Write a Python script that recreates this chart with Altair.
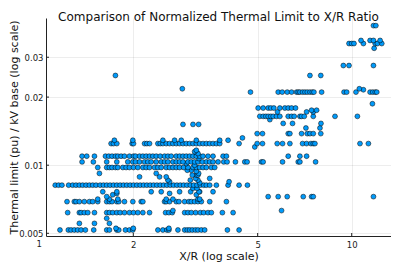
import altair as alt
import pandas as pd

# ---- data (x = X/R ratio, y = thermal limit per kV base) ----
xr_00517 = [1.165, 1.239, 1.264, 1.295, 1.327, 1.361, 1.405, 1.494, 1.644, 1.677, 1.771, 1.797, 1.888, 1.944, 1.993,
            2.397, 2.487, 2.562, 2.600, 2.779, 2.920, 2.977, 3.029, 3.089, 3.159, 3.221, 3.302, 3.385, 4.001, 4.361]
xr_00526 = [1.76, 2.00, 2.60]
xr_00553 = [1.344, 1.502, 1.677]
xr_00582 = [1.644]
xr_00617 = [1.233, 1.344, 1.361, 1.394, 1.430, 1.502, 1.644, 1.677, 1.719, 1.771, 1.815, 1.874, 1.944, 2.003, 2.068,
            2.146, 2.254, 2.537, 2.600, 2.665, 2.920, 2.992, 3.067, 3.167, 3.278, 3.360, 3.468, 3.555, 3.856, 4.173]
xr_00630 = [2.678, 5.963]
xr_00690 = [1.227, 1.295, 1.311, 1.344, 1.394, 1.447, 1.483, 1.539, 1.644, 1.677, 1.710, 1.771, 1.797, 1.874, 1.993,
            2.120, 2.146, 2.518, 2.549, 2.613, 2.745, 2.800, 2.920, 3.014, 3.067, 3.143, 3.221, 3.302, 3.512, 3.972]
xr_00708 = [1.539, 1.677, 1.784, 2.549, 2.678, 3.221, 3.262]
xr_00726 = [1.644, 5.403, 5.817, 6.218, 6.998, 7.442, 7.534, 11.74]
xr_00740 = [1.719, 3.182]
xr_00750 = [1.771, 2.613]
xr_00763 = [1.597, 1.771, 2.282, 2.457, 2.813, 3.052, 3.262, 3.599, 3.245]
xr_00790 = [3.105, 3.198]
xr_00816 = [1.125, 1.153, 1.182, 1.242, 1.279, 1.311, 1.344, 1.377, 1.412, 1.447, 1.483, 1.520, 1.566, 1.605, 1.644,
            1.685, 1.728, 1.771, 1.815, 1.860, 1.906, 1.954, 2.003, 2.053, 2.104, 2.157, 2.210, 2.265, 2.322, 2.380,
            2.439, 2.500, 2.562, 2.626, 2.691, 2.759, 2.827, 2.898, 2.970, 3.044, 3.121, 3.198, 3.278, 3.360, 3.426,
            3.512, 3.689, 4.021, 4.361, 4.638]
xr_00836 = [3.262]
xr_00845 = [2.613, 4.051]
xr_00859 = [2.581, 3.221, 3.044]
xr_00874 = [3.167, 3.512]
xr_00888 = [2.094, 2.427, 2.549]
xr_00904 = [3.182, 3.221, 3.089]
xr_00920 = [2.368, 3.237, 1.558]
xr_00940 = [3.182]
xr_00950 = [3.067, 2.977]
xr_00977 = [1.539, 1.644, 1.677, 1.710, 1.753, 1.784, 1.851, 1.897, 1.944, 2.003, 2.068, 2.146, 2.199, 2.254, 2.339,
            2.397, 2.457, 2.549, 2.613, 2.678, 2.745, 2.813, 2.898, 2.992, 3.105, 3.182, 3.262, 3.343, 3.426, 3.555, 3.644]
xr_01000 = [3.143]
xr_01017 = [2.955]
xr_01034 = [1.371, 1.490, 1.644, 1.771, 1.920, 1.993, 2.033, 2.094, 2.173, 2.226, 2.282, 2.368, 2.457, 2.518, 2.581,
            2.678, 2.745, 2.813, 2.884, 2.992, 3.067, 3.143, 3.221, 3.327, 3.426, 3.512, 3.599, 3.735, 3.895, 3.992,
            4.245, 4.548, 4.627, 5.144, 5.207, 6.007, 6.744, 6.827, 7.664]
xr_01070 = [3.245]
xr_01096 = [1.371, 1.419, 1.502, 1.629, 1.669, 1.710, 1.753, 1.784, 1.828, 1.874, 1.944, 2.003, 2.033, 2.094, 2.146,
            2.199, 2.254, 2.310, 2.368, 2.439, 2.518, 2.581, 2.645, 2.745, 2.813, 2.884, 2.955, 3.029, 3.105, 3.182,
            3.262, 3.343, 3.468, 3.599, 3.876, 3.972, 6.264, 6.827, 7.172]
xr_01126 = [3.221]
xr_01148 = [3.143]
xr_01164 = [3.182]
xr_01204 = [4.896]
xr_01246 = [1.698, 1.728, 1.771, 1.983, 2.003, 2.173, 2.210, 2.254, 2.397, 2.439, 2.487, 2.549, 2.613, 2.678, 2.745,
            2.813, 2.884, 2.955, 3.029, 3.105, 3.182, 3.262, 3.343, 3.426, 3.512, 3.599, 3.689, 3.781, 4.361, 4.982,
            5.182, 5.775, 6.007, 6.341, 6.963, 7.172, 7.405, 7.534, 7.627, 10.63, 11.31]
xr_01289 = [1.740, 1.993, 2.487, 2.711, 2.848, 3.182, 3.781, 4.021]
xr_01320 = [4.470]
xr_01379 = [4.982, 5.182, 6.264, 6.341, 6.912, 7.208, 7.351, 7.534, 7.963]
xr_01460 = [7.137, 7.915]
xr_01515 = [2.884, 3.105, 3.237]
xr_01530 = [6.036, 6.466, 7.974]
xr_01590 = [5.470]
xr_01644 = [5.081, 5.207, 5.311, 5.403, 5.510, 5.607, 5.746, 5.890, 6.264, 6.420, 6.547, 6.827, 6.912, 7.050, 7.534,
            8.843, 10.43]
xr_01720 = [5.788, 7.172, 7.534]
xr_01750 = [7.442, 7.722]
xr_01789 = [5.018, 5.207, 5.403, 5.510, 5.635, 5.890, 6.111, 6.264, 6.420, 6.611]
xr_01869 = [11.65]
xr_02104 = [4.743, 5.817, 5.992, 6.218, 6.420, 6.661, 6.744, 6.827, 6.963, 7.085, 7.208, 7.351, 7.478, 7.571, 8.013,
            9.451, 9.638, 10.32, 11.45, 11.68, 11.89, 12.03]
xr_02155 = [10.90]
xr_02177 = [2.870, 10.58]
xr_02492 = [1.753, 7.351, 7.963]
xr_02758 = [9.404, 9.805, 11.74]
xr_03288 = [11.80]
xr_03450 = [9.805, 10.00, 10.17, 10.90, 11.89, 12.09, 12.48]
xr_03560 = [10.71, 11.45, 11.74, 12.33]
xr_04140 = [11.74, 11.95]

rows = [
    (0.00517, xr_00517), (0.00526, xr_00526), (0.00553, xr_00553), (0.00582, xr_00582), (0.00617, xr_00617),
    (0.00630, xr_00630), (0.00690, xr_00690), (0.00708, xr_00708), (0.00726, xr_00726), (0.00740, xr_00740),
    (0.00750, xr_00750), (0.00763, xr_00763), (0.00790, xr_00790), (0.00816, xr_00816), (0.00836, xr_00836),
    (0.00845, xr_00845), (0.00859, xr_00859), (0.00874, xr_00874), (0.00888, xr_00888), (0.00904, xr_00904),
    (0.00920, xr_00920), (0.00940, xr_00940), (0.00950, xr_00950), (0.00977, xr_00977), (0.01000, xr_01000),
    (0.01017, xr_01017), (0.01034, xr_01034), (0.01070, xr_01070), (0.01096, xr_01096), (0.01126, xr_01126),
    (0.01148, xr_01148), (0.01164, xr_01164), (0.01204, xr_01204), (0.01246, xr_01246), (0.01289, xr_01289),
    (0.01320, xr_01320), (0.01379, xr_01379), (0.01460, xr_01460), (0.01515, xr_01515), (0.01530, xr_01530),
    (0.01590, xr_01590), (0.01644, xr_01644), (0.01720, xr_01720), (0.01750, xr_01750), (0.01789, xr_01789),
    (0.01869, xr_01869), (0.02104, xr_02104), (0.02155, xr_02155), (0.02177, xr_02177), (0.02492, xr_02492),
    (0.02758, xr_02758), (0.03288, xr_03288), (0.03450, xr_03450), (0.03560, xr_03560), (0.04140, xr_04140),
]

x_ticks = [2, 5, 10]
x_first_label = [1]
y_ticks = [0.005, 0.01, 0.02, 0.03]

df = pd.DataFrame([{"xr": x, "lim": y} for y, xs in rows for x in xs])

W, H = 345, 218
FONT = "DejaVu Sans"
xscale = alt.Scale(type="log", domain=[1.051, 13.36], nice=False)
yscale = alt.Scale(type="log", domain=[0.004864, 0.04474], nice=False)

x_axis = alt.Axis(
    values=x_ticks, format="~g", title="X/R (log scale)", ticks=False, labelPadding=4,
    labelFontSize=8.5, labelFont=FONT, labelColor="#222", titleFont=FONT, titleFontSize=11,
    titleFontWeight="normal", titleColor="#111", titleBaseline="top", titleY=14,
    domainColor="#222", domainWidth=1, grid=True, gridColor="#000000", gridOpacity=0.09, gridWidth=0.8)
y_axis = alt.Axis(
    values=y_ticks, format="~g", title="Thermal limit (pu) / kV base (log scale)", ticks=False,
    labelPadding=3, labelFontSize=8.5, labelFont=FONT, labelColor="#222", titleFont=FONT,
    titleFontSize=11, titleFontWeight="normal", titleColor="#111", titleAngle=-90, titleX=-27,
    titleY=H / 2, titleAlign="center", titleBaseline="bottom",
    domainColor="#222", domainWidth=1, grid=True, gridColor="#000000", gridOpacity=0.09, gridWidth=0.8)

points = alt.Chart(df).mark_circle(
    size=24, color="#009AFA", opacity=1, stroke="#000000", strokeWidth=0.6, strokeOpacity=0.85
).encode(
    x=alt.X("xr:Q", scale=xscale, axis=x_axis),
    y=alt.Y("lim:Q", scale=yscale, axis=y_axis),
)

xtick_marks = alt.Chart(pd.DataFrame({"xr": x_ticks})).mark_rule(color="#222", strokeWidth=1).encode(
    x=alt.X("xr:Q", scale=xscale, axis=x_axis), y=alt.value(H), y2=alt.value(H - 3))
ytick_marks = alt.Chart(pd.DataFrame({"lim": y_ticks})).mark_rule(color="#222", strokeWidth=1).encode(
    y=alt.Y("lim:Q", scale=yscale, axis=y_axis), x=alt.value(0), x2=alt.value(3))
first_label = alt.Chart(pd.DataFrame({"xr": x_first_label, "t": ["1"]})).mark_text(
    baseline="top", fontSize=8.5, font=FONT, color="#222").encode(
    x=alt.X("xr:Q", scale=xscale, axis=x_axis), y=alt.value(H + 4), text="t:N")

chart = alt.layer(points, xtick_marks, ytick_marks, first_label).properties(
    width=W, height=H,
    title=alt.TitleParams("Comparison of Normalized Thermal Limit to X/R Ratio", font=FONT, fontSize=12,
                          fontWeight="normal", color="#111", anchor="middle", frame="group",
                          baseline="alphabetic", offset=-15),
    autosize=alt.AutoSizeParams(type="none"),
    padding={"left": 38, "top": 10, "right": 0, "bottom": 27},
).configure_view(stroke=None)

chart.save("out.html", embed_options={"renderer": "svg", "actions": False})
